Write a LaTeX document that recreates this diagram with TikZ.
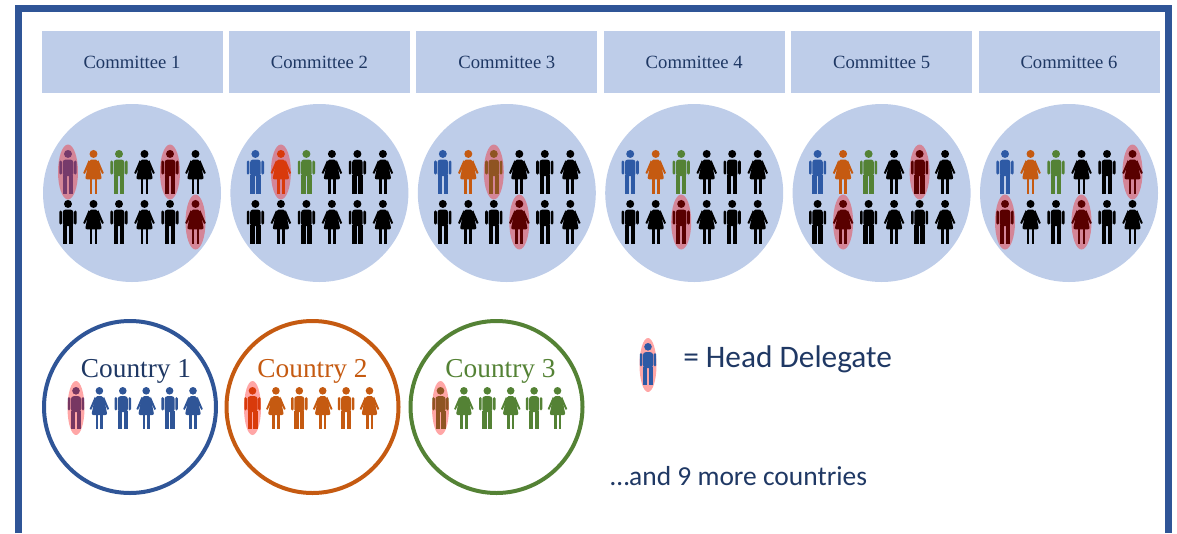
\documentclass[tikz,border=0pt]{standalone}
\usepackage{fontspec}
\setmainfont{Liberation Serif}
\newfontfamily\calibri{Carlito}

\definecolor{frameblue}{RGB}{47,85,151}
\definecolor{boxblue}{RGB}{190,205,233}
\definecolor{navy}{RGB}{31,56,100}
\definecolor{pblue}{RGB}{46,90,165}
\definecolor{porange}{RGB}{197,90,17}
\definecolor{pgreen}{RGB}{84,130,53}

\tikzset{
  outerframe/.style={draw=frameblue,line width=5.25pt},
  combox/.style={fill=boxblue,minimum width=135.75pt,minimum height=46.5pt,
    inner sep=0pt,text=navy,font=\fontsize{14}{16}\selectfont},
  pool/.style={fill=boxblue},
  ring/.style={line width=3pt},
  ctext/.style={anchor=base,inner sep=0pt,font=\fontsize{20.5}{24}\selectfont},
  hd/.style={fill=red,fill opacity=0.35},
  legtext/.style={inner sep=0pt,text=navy,font=\calibri\fontsize{23.5}{28}\selectfont},
  moretext/.style={inner sep=0pt,text=navy,font=\calibri\fontsize{20.6}{24}\selectfont},
  man/.pic={
    \fill (0,-17.2) circle (3.8);
    \fill[rounded corners=2] (-5,4) -- (-5,-11.8) -- (5,-11.8) -- (5,4) -- cycle;
    \fill[rounded corners=1] (-8.2,2.5) rectangle (-5.7,-11);
    \fill[rounded corners=1] (5.7,2.5) rectangle (8.2,-11);
    \fill (-5,3) rectangle (-0.7,21);
    \fill (0.7,3) rectangle (5,21);
  },
  woman/.pic={
    \fill (0,-17.2) circle (3.8);
    \fill[rounded corners=1.5] (-4.2,-11.8) -- (4.2,-11.8) -- (8,7) -- (-8,7) -- cycle;
    \fill (-4.6,-11.2) -- (-9.8,1) -- (-8.2,1.8) -- (-3.6,-7.5) -- cycle;
    \fill (4.6,-11.2) -- (9.8,1) -- (8.2,1.8) -- (3.6,-7.5) -- cycle;
    \fill (-3.7,6) rectangle (-1,21);
    \fill (1,6) rectangle (3.7,21);
  }
}

\begin{document}
\begin{tikzpicture}[x=0.75pt,y=-0.75pt]
  \useasboundingbox (0,0) rectangle (1177,533);
  \draw[outerframe] (18.5,533) -- (18.5,8) -- (1168,8) -- (1168,533);

  % committees, head delegates as col/row-y
  \foreach \i/\hls in {1/{0/172,4/172,5/222},2/{1/172},3/{2/172,3/222},
                       4/{2/222},5/{4/172,1/222},6/{5/172,0/222,3/222}}
  {
    \pgfmathsetmacro\cx{132+187.4*(\i-1)}
    \node[combox] (com\i) at (\cx,62) {Committee \i};
    \fill[pool] (\cx,193) circle (89);
    \foreach \k/\col in {0/pblue,1/porange,2/pgreen,3/black,4/black,5/black}
    {
      \ifodd\k
        \pic[color=\col,scale=1.05] at (\cx-64+25.5*\k,172) {woman};
        \pic[scale=1.05] at (\cx-64+25.5*\k,222) {woman};
      \else
        \pic[color=\col,scale=1.05] at (\cx-64+25.5*\k,172) {man};
        \pic[scale=1.05] at (\cx-64+25.5*\k,222) {man};
      \fi
    }
    \foreach \k/\y in \hls
      \fill[hd] (\cx-64+25.5*\k,\y) ellipse (10 and 27.5);
  }

  % countries
  \foreach \j/\cx/\tx/\rc/\tc in {1/130/136/frameblue/navy,2/312.5/312.5/porange/porange,
                                   3/496.5/500.5/pgreen/pgreen}
  {
    \draw[ring,draw=\rc] (\cx,407) circle (86);
    \node[ctext,text=\tc] (cty\j) at (\tx,377) {Country \j};
    \foreach \k in {0,...,5}
    {
      \ifodd\k
        \pic[color=\rc] at (\tx-60+23.4*\k,408) {woman};
      \else
        \pic[color=\rc] at (\tx-60+23.4*\k,408) {man};
      \fi
    }
    \fill[hd] (\tx-60,408) ellipse (8.5 and 27);
  }

  % legend
  \fill[hd] (648,365) ellipse (8.5 and 27);
  \pic[color=pblue] at (648,364) {man};
  \node[legtext,anchor=base west] (hdtext) at (683,367) {= Head Delegate};
  \node[moretext,anchor=base west] (more) at (610,485) {…and 9 more countries};
\end{tikzpicture}
\end{document}
